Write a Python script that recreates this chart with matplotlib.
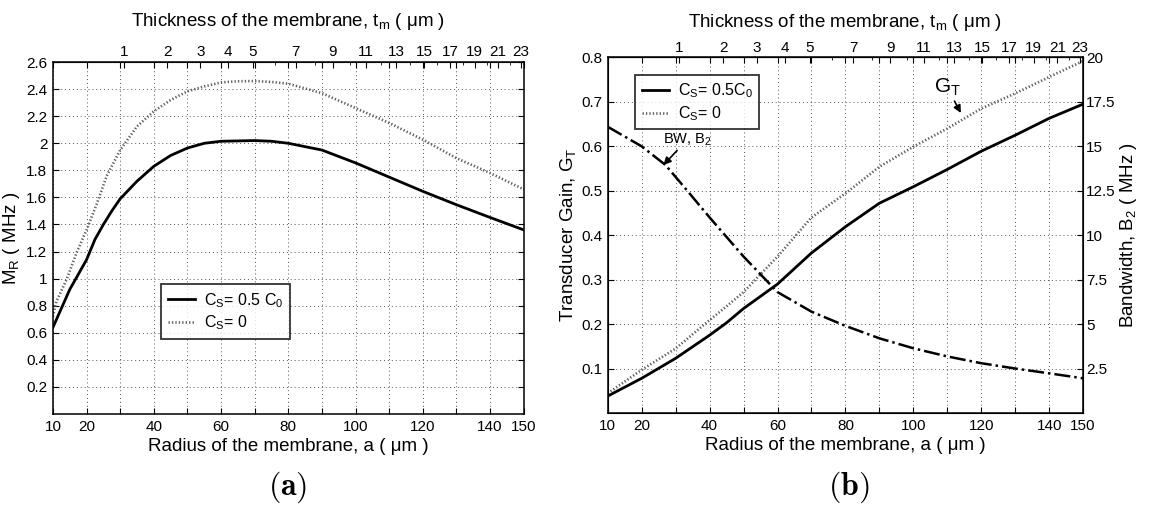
import numpy as np
import matplotlib
matplotlib.use('Agg')
import matplotlib.pyplot as plt

plt.rcParams['font.family'] = ['Liberation Sans', 'DejaVu Sans']
plt.rcParams['mathtext.fontset'] = 'custom'
plt.rcParams['mathtext.rm'] = 'Liberation Sans'
plt.rcParams['mathtext.it'] = 'Liberation Sans'
plt.rcParams['mathtext.bf'] = 'Liberation Sans:bold'

# radius of membrane (um)
a_left = [10, 15, 20, 22.5, 25, 27.5, 30, 35, 40, 45, 50, 55, 60, 70, 75, 80, 90, 100, 110, 120, 130, 140, 150]
mr_half = [0.64, 0.92, 1.14, 1.29, 1.40, 1.50, 1.59, 1.72, 1.83, 1.91, 1.965, 2.0, 2.015, 2.02, 2.015, 2.0, 1.95, 1.855, 1.75, 1.645, 1.546, 1.452, 1.36]
a_left2 = [10, 11, 14, 17, 20, 23, 26, 30, 35, 40, 45, 50, 55, 60, 65, 70, 75, 80, 90, 100, 110, 120, 130, 140, 150]
mr_zero = [0.72, 0.83, 0.99, 1.19, 1.36, 1.55, 1.76, 1.95, 2.125, 2.236, 2.32, 2.384, 2.42, 2.45, 2.458, 2.46, 2.453, 2.44, 2.37, 2.26, 2.15, 2.027, 1.89, 1.78, 1.66]

a_right = [10, 20, 30, 40, 45, 50, 60, 70, 80, 90, 100, 110, 120, 130, 140, 150]
gt_half = [0.038, 0.078, 0.123, 0.175, 0.203, 0.235, 0.29, 0.36, 0.419, 0.472, 0.509, 0.548, 0.589, 0.625, 0.663, 0.695]
gt_zero = [0.044, 0.097, 0.145, 0.209, 0.24, 0.272, 0.352, 0.44, 0.494, 0.554, 0.599, 0.640, 0.685, 0.719, 0.756, 0.792]
a_bw = [10, 20, 27, 33, 40, 50, 60, 70, 80, 90, 100, 110, 120, 130, 140, 150]
bw_mhz = [16.1, 15.0, 13.95, 12.6, 11.0, 8.8, 6.8, 5.7, 4.9, 4.2, 3.64, 3.18, 2.8, 2.5, 2.23, 1.95]

x_ticks = [10, 20, 30, 40, 50, 60, 70, 80, 90, 100, 110, 120, 130, 140, 150]
x_labels = ['10', '20', '', '40', '', '60', '', '80', '', '100', '', '120', '', '140', '150']
t_ticks = [1, 2, 3, 4, 5, 7, 9, 11, 13, 15, 17, 19, 21, 23]

DOT = (0, (0.5, 0.8))


def a2t(a):
    return np.sign(a) * np.asarray(a, float) ** 2 / 966.0


def t2a(t):
    return np.sqrt(np.abs(np.asarray(t, float)) * 966.0)


def style_axes(ax, toppad):
    ax.set_xlim(10, 150)
    ax.set_xticks(x_ticks)
    ax.set_xticklabels(x_labels)
    ax.grid(True, linestyle=(0, (1, 3)), color='#555555', linewidth=0.7)
    ax.tick_params(direction='in', length=4, labelsize=11, top=True, labeltop=False)
    ax.tick_params(axis='x', pad=4)
    ax.tick_params(axis='y', pad=4)
    for s in ax.spines.values():
        s.set_linewidth(1.1)
    ax.set_xlabel('Radius of the membrane, a ( \u03bcm )', fontsize=13.5, labelpad=3)
    top = ax.secondary_xaxis('top', functions=(a2t, t2a))
    top.set_xticks(t_ticks)
    top.set_xticks(np.arange(1, 24), minor=True)
    top.tick_params(direction='in', length=4, labelsize=11, pad=2)
    top.tick_params(which='minor', direction='in', length=2)
    top.set_xlabel('Thickness of the membrane, t$_\\mathrm{m}$ ( \u03bcm )', fontsize=13.5, labelpad=toppad)
    return top


def make_legend(ax, anchor):
    leg = ax.legend(loc='upper left', bbox_to_anchor=anchor, fontsize=11.5, frameon=True,
                    fancybox=False, edgecolor='black', handlelength=1.7, borderpad=0.4,
                    labelspacing=0.25, handletextpad=0.55, borderaxespad=0)
    leg.get_frame().set_linewidth(1.3)
    return leg


fig = plt.figure(figsize=(11.51, 5.13), dpi=100)

# (a)
ax1 = fig.add_axes([0.046, 0.193, 0.409, 0.686])
ax1.plot(a_left, mr_half, color='black', linewidth=2.0, label='C$_\\mathrm{S}$= 0.5 C$_\\mathrm{0}$')
ax1.plot(a_left2, mr_zero, color='#606060', linestyle=DOT, linewidth=1.9, label='C$_\\mathrm{S}$= 0')
style_axes(ax1, 14)
ax1.tick_params(axis='y', right=True)
ax1.set_ylim(0, 2.6)
ax1.set_yticks(np.arange(0.2, 2.61, 0.2))
ax1.set_yticklabels(['0.2', '0.4', '0.6', '0.8', '1', '1.2', '1.4', '1.6', '1.8', '2', '2.2', '2.4', '2.6'])
ax1.set_ylabel('M$_\\mathrm{R}$ ( MHz )', fontsize=13.5, labelpad=3)
make_legend(ax1, (0.230, 0.368))
fig.text(0.25, 0.051, r'$\mathbf{(a)}$', ha='center', va='center', fontsize=23,
         math_fontfamily='cm')

# (b)
ax2 = fig.add_axes([0.528, 0.195, 0.413, 0.693])
ax2.plot(a_right, gt_half, color='black', linewidth=2.0, label='C$_\\mathrm{S}$= 0.5C$_\\mathrm{0}$')
ax2.plot(a_right, gt_zero, color='#606060', linestyle=DOT, linewidth=1.9, label='C$_\\mathrm{S}$= 0')
style_axes(ax2, 10)
ax2.set_ylim(0, 0.8)
ax2.set_yticks(np.arange(0.1, 0.81, 0.1))
ax2.set_ylabel('Transducer Gain, G$_\\mathrm{T}$', fontsize=13.5, labelpad=2)
ax3 = ax2.twinx()
ax3.plot(a_bw, bw_mhz, color='black', linestyle='-.', linewidth=1.8)
ax3.set_ylim(0, 20)
ax3.set_yticks([2.5, 5, 7.5, 10, 12.5, 15, 17.5, 20])
ax3.set_yticklabels(['2.5', '5', '7.5', '10', '12.5', '15', '17.5', '20'])
ax3.tick_params(direction='in', length=4, labelsize=11, pad=2)
ax3.set_ylabel('Bandwidth, B$_\\mathrm{2}$ ( MHz )', fontsize=13.5, labelpad=2)
make_legend(ax2, (0.058, 0.95))
ax2.annotate('BW, B$_\\mathrm{2}$', xy=(26.4, 0.558), xytext=(33.5, 0.597), fontsize=10.5,
             ha='center', va='bottom',
             arrowprops=dict(arrowstyle='-|>', color='black', lw=1.2, shrinkA=0, shrinkB=0,
                             mutation_scale=11))
ax2.annotate('G$_\\mathrm{T}$', xy=(114, 0.675), xytext=(110, 0.708), fontsize=15,
             ha='center', va='bottom',
             arrowprops=dict(arrowstyle='-|>', color='black', lw=1.2, shrinkA=0, shrinkB=0,
                             mutation_scale=11))
fig.text(0.737, 0.051, r'$\mathbf{(b)}$', ha='center', va='center', fontsize=23,
         math_fontfamily='cm')

plt.savefig('out.png', dpi=100)
